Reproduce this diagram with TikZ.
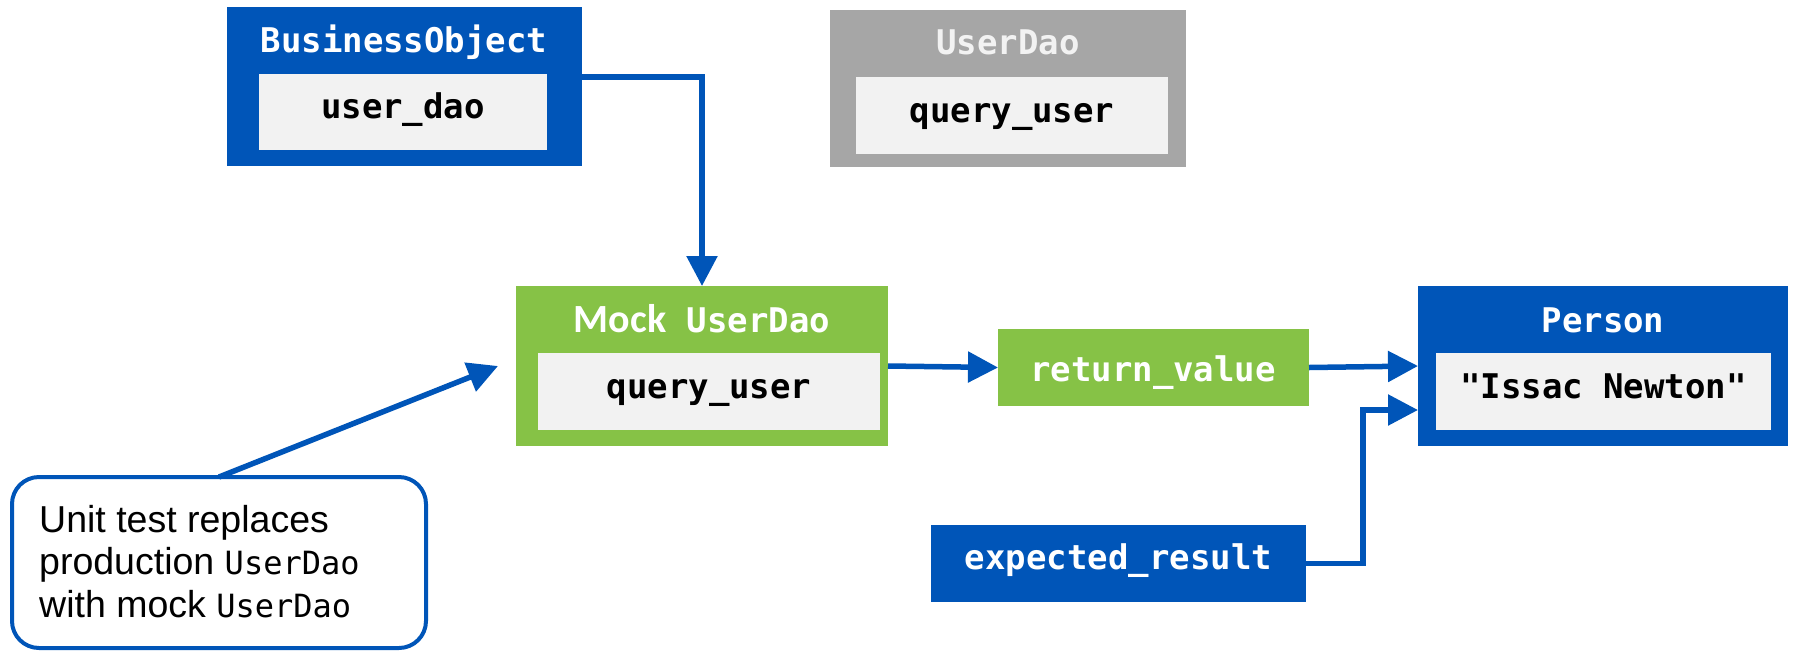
\documentclass[tikz,border=0pt]{standalone}
\usepackage{fontspec}
\setmainfont{Liberation Sans}
\newfontfamily\codefont{DejaVu Sans Mono}
\newfontfamily\calfont{Carlito}
\usetikzlibrary{arrows.meta}

\definecolor{dblue}{RGB}{0,85,184}
\definecolor{lgreen}{RGB}{134,194,70}
\definecolor{mgray}{RGB}{166,166,166}
\definecolor{pale}{RGB}{242,242,242}

\tikzset{
  box/.style={rectangle, inner sep=0pt, outer sep=0pt, draw=none},
  codetext/.style={inner sep=0pt, text height=26pt, text depth=13pt,
    font=\codefont\bfseries\fontsize{34}{40}\selectfont},
  field/.style={box, fill=pale, text=black, text height=26pt, text depth=13pt,
    font=\codefont\bfseries\fontsize{34}{40}\selectfont},
  title/.style={codetext, text=white},
  arr/.style={draw=dblue, line width=5.5pt,
    -{Triangle[length=30pt,width=30pt]}},
  calloutline/.style={inner sep=0pt, anchor=base west,
    font=\fontsize{37.5}{45}\selectfont},
}
\newcommand{\calcode}[1]{{\codefont\fontsize{32}{45}\selectfont #1}}

\begin{document}
\begin{tikzpicture}[x=1pt,y=-1pt]
\useasboundingbox (0,0) rectangle (1793,654);

% BusinessObject
\node[box, fill=dblue, minimum width=355pt, minimum height=159pt] (bo) at (404.5,86.5) {};
\node[title] (botitle) at (404,45.5) {BusinessObject};
\node[field, minimum width=288pt, minimum height=76pt] (bofield) at (403,112) {user\_dao};

% production UserDao
\node[box, fill=mgray, minimum width=356pt, minimum height=157pt] (dao) at (1008,88.5) {};
\node[title, text=pale] (daotitle) at (1008,47.5) {UserDao};
\node[field, minimum width=312pt, minimum height=77pt] (daofield) at (1012,115.5) {query\_user};

% Mock UserDao
\node[box, fill=lgreen, minimum width=372pt, minimum height=160pt] (mock) at (702,366) {};
\node[title] (mocktitle) at (702,325.5) {{\calfont\bfseries\fontsize{40}{44}\selectfont Mock} UserDao};
\node[field, minimum width=342pt, minimum height=77pt] (mockfield) at (709,391.5) {query\_user};

% return value
\node[box, fill=lgreen, minimum width=311pt, minimum height=77pt] (rv) at (1153.5,367.5) {};
\node[title] (rvtext) at (1153,374.5) {return\_value};

% Person
\node[box, fill=dblue, minimum width=370pt, minimum height=160pt] (person) at (1603,366) {};
\node[title] (persontitle) at (1603,325.5) {Person};
\node[field, minimum width=335pt, minimum height=77pt] (personfield) at (1603.5,391.5) {"Issac Newton"};

% expected result
\node[box, fill=dblue, minimum width=375pt, minimum height=77pt] (er) at (1118.5,563.5) {};
\node[title] (ertext) at (1118.5,562.5) {expected\_result};

% callout
\node[box, draw=dblue, line width=4pt, fill=white, rounded corners=27pt,
      minimum width=414pt, minimum height=171pt] (callout) at (219,562.5) {};
\node[calloutline] (callone) at (39,532) {Unit test replaces};
\node[calloutline] (calltwo) at (39,574) {production \calcode{UserDao}};
\node[calloutline] (callthree) at (39,617) {with mock \calcode{UserDao}};

% connectors
\draw[arr] ([yshift=9.5pt]bo.east) -| (mock.north);
\draw[arr] (mock.east) -- (rv.west);
\draw[arr] (rv.east) -- (person.west);
\draw[arr] (er.east) -- ++(57,0) |- ([yshift=-44pt]person.west);
\draw[arr] (callout.north) -- ([xshift=-18pt]mock.west);
\end{tikzpicture}
\end{document}
